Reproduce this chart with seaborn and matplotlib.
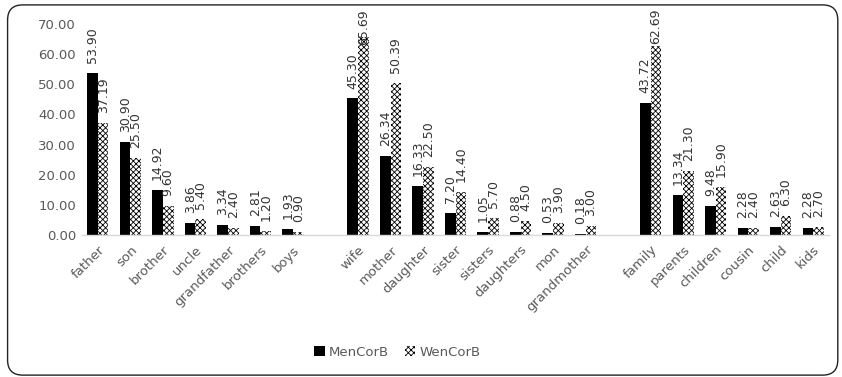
import matplotlib
matplotlib.use("Agg")
import matplotlib.pyplot as plt
from matplotlib.patches import FancyBboxPatch, Patch
import seaborn as sns
import pandas as pd

# Kinship terms, grouped (male / female / neutral); blank slots separate the groups
male_terms = ["father", "son", "brother", "uncle", "grandfather", "brothers", "boys"]
female_terms = ["wife", "mother", "daughter", "sister", "sisters", "daughters", "mon", "grandmother"]
neutral_terms = ["family", "parents", "children", "cousin", "child", "kids"]

men_male = [53.90, 30.90, 14.92, 3.86, 3.34, 2.81, 1.93]
wen_male = [37.19, 25.50, 9.60, 5.40, 2.40, 1.20, 0.90]
men_female = [45.30, 26.34, 16.33, 7.20, 1.05, 0.88, 0.53, 0.18]
wen_female = [65.69, 50.39, 22.50, 14.40, 5.70, 4.50, 3.90, 3.00]
men_neutral = [43.72, 13.34, 9.48, 2.28, 2.63, 2.28]
wen_neutral = [62.69, 21.30, 15.90, 2.40, 6.30, 2.70]

series = ["MenCorB", "WenCorB"]
y_ticks = [0, 10, 20, 30, 40, 50, 60, 70]

terms = male_terms + female_terms + neutral_terms
men = men_male + men_female + men_neutral
wen = wen_male + wen_female + wen_neutral
order = male_terms + [" "] + female_terms + ["  "] + neutral_terms

df = pd.DataFrame({
    "term": terms * 2,
    "corpus": [series[0]] * len(terms) + [series[1]] * len(terms),
    "value": men + wen,
})

sns.set_theme(style="white")
plt.rcParams["font.family"] = ["DejaVu Sans"]
plt.rcParams["hatch.linewidth"] = 0.6

fig = plt.figure(figsize=(8.42, 3.77), dpi=100)
ax = fig.add_axes([0.097, 0.377, 0.888, 0.559])

sns.barplot(data=df, x="term", y="value", hue="corpus", order=order,
            hue_order=series, palette=["black", "white"], width=0.65,
            ax=ax, legend=False, errorbar=None, saturation=1)

black_bars, hatched_bars = ax.containers[0], ax.containers[1]
for b in black_bars:
    b.set_facecolor("black")
    b.set_edgecolor("black")
    b.set_linewidth(0)
for b in hatched_bars:
    b.set_facecolor("white")
    b.set_edgecolor("black")
    b.set_hatch("xxxxxx")
    b.set_linewidth(0)

ax.set_ylim(0, 70)
ax.set_yticks(y_ticks)
ax.set_yticklabels([f"{t:.2f}" for t in y_ticks], fontsize=9.5, color="#595959")
ax.set_xlabel("")
ax.set_ylabel("")
for lbl in ax.get_xticklabels():
    lbl.set_rotation(45)
    lbl.set_ha("right")
    lbl.set_rotation_mode("anchor")
    lbl.set_fontsize(9.5)
    lbl.set_color("#595959")
ax.tick_params(axis="both", length=0, pad=4)
ax.tick_params(axis="x", pad=6)
for side in ["top", "right", "left"]:
    ax.spines[side].set_visible(False)
ax.spines["bottom"].set_color("#d9d9d9")
ax.spines["bottom"].set_linewidth(1)

# Value labels above each bar, pulled down when they would run off the chart
fig.canvas.draw()
renderer = fig.canvas.get_renderer()
top_px = fig.bbox.height - 9
for container in ax.containers:
    for b in container:
        h = b.get_height()
        if pd.isna(h):
            continue
        x = b.get_x() + b.get_width() / 2
        t = ax.text(x, h + 3.3, f"{h:.2f}", rotation=90, ha="center", va="bottom",
                    fontsize=9, color="#333333", clip_on=False)
        bb = t.get_window_extent(renderer)
        if bb.y1 > top_px:
            y_data = ax.transData.inverted().transform((0, top_px))[1]
            t.set_y(y_data)
            t.set_va("top")

handles = [Patch(facecolor="black", edgecolor="black", linewidth=0, label=series[0]),
           Patch(facecolor="white", edgecolor="black", hatch="xxxxxx", linewidth=0, label=series[1])]
fig.legend(handles=handles, loc="center", bbox_to_anchor=(0.472, 0.066), ncol=2,
           frameon=False, fontsize=9.5, handlelength=0.8, handleheight=0.8,
           handletextpad=0.3, columnspacing=1.2, labelcolor="#595959")

# Rounded chart-area border
frame = FancyBboxPatch((0.009, 0.005), 0.986, 0.982, transform=fig.transFigure,
                       boxstyle="round,pad=0,rounding_size=0.018", fill=False,
                       edgecolor="#222222", linewidth=1.0, mutation_aspect=842 / 377)
fig.patches.append(frame)

fig.savefig("out.png", dpi=100)
